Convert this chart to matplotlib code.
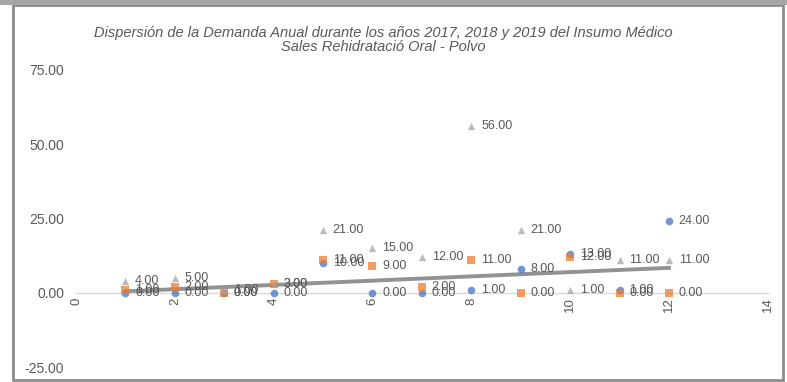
import numpy as np
import matplotlib.pyplot as plt
from matplotlib.patches import Rectangle

# demanda mensual por año (unidades)
meses = [1, 2, 3, 4, 5, 6, 7, 8, 9, 10, 11, 12]
d2017 = [0, 0, 0, 0, 10, 0, 0, 1, 8, 13, 1, 24]
d2018 = [1, 2, 0, 3, 11, 9, 2, 11, 0, 12, 0, 0]
d2019 = [4, 5, 1, 3, 21, 15, 12, 56, 21, 1, 11, 11]

titulo = ("Dispersión de la Demanda Anual durante los años 2017, 2018 y 2019 del Insumo Médico\n"
          "Sales Rehidratació Oral - Polvo")

gris_txt = '#595959'
plt.rcParams['font.family'] = ['Liberation Sans', 'DejaVu Sans']

fig = plt.figure(figsize=(7.87, 3.82), dpi=100)
ax = fig.add_axes([0.0966, 0.038, 0.879, 0.780])

# marco del grafico
fig.patches.append(Rectangle((13 / 787, 2 / 382), 770 / 787, 375 / 382, transform=fig.transFigure,
                             fill=False, edgecolor='#8c8c8c', linewidth=2))
fig.patches.append(Rectangle((0, 377 / 382), 1, 5 / 382, transform=fig.transFigure,
                             facecolor='#a6a6a6', edgecolor='none'))

series = [
    (d2017, 'o', '#4472C4', 30),
    (d2018, 's', '#ED7D31', 30),
    (d2019, '^', '#A5A5A5', 28),
]
for datos, marca, color, tam in series:
    ax.scatter(meses, datos, marker=marca, s=tam, color=color, alpha=0.75, zorder=3, linewidths=0)
    for x, y in zip(meses, datos):
        ax.annotate(f'{y:.2f}', (x, y), xytext=(7, 0), textcoords='offset points',
                    ha='left', va='center', fontsize=9, color=gris_txt, zorder=4)

# linea de tendencia (2017 y 2018)
xs = np.array(meses + meses)
ys = np.array(d2017 + d2018)
m, b = np.polyfit(xs, ys, 1)
xt = np.array([meses[0], meses[-1]])
ax.plot(xt, m * xt + b, color='#7f7f7f', linewidth=2.8, alpha=0.85, zorder=2)

ax.set_xlim(0, 14)
ax.set_ylim(-25, 75)
ax.set_xticks(range(0, 15, 2))
ax.set_yticks([-25, 0, 25, 50, 75])
ax.set_yticklabels([f'{v:.2f}' for v in [-25, 0, 25, 50, 75]])

for lado in ['top', 'right', 'left']:
    ax.spines[lado].set_visible(False)
ax.spines['bottom'].set_position(('data', 0))
ax.spines['bottom'].set_color('#d9d9d9')
ax.spines['bottom'].set_linewidth(1)
ax.tick_params(axis='both', length=0, colors=gris_txt, labelsize=10)
ax.tick_params(axis='x', pad=3, labelsize=9.5)
ax.tick_params(axis='y', pad=8.5)
for lbl in ax.get_xticklabels():
    lbl.set_rotation(90)
    lbl.set_va('top')

fig.text(0.487, 0.895, titulo, ha='center', va='center', fontsize=10.5, style='italic',
         color=gris_txt, linespacing=1.0)

fig.savefig('out.png', dpi=100)
